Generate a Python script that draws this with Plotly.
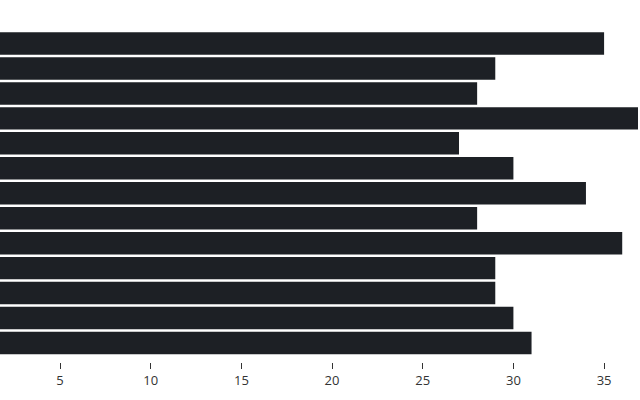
import plotly.graph_objects as go

categories = ["A", "B", "C", "D", "E", "F", "G", "H", "I", "J", "K", "L", "M"]
values = [31, 30, 29, 29, 36, 28, 34, 30, 27, 37, 28, 29, 35]
x_ticks = [5, 10, 15, 20, 25, 30, 35]

fig = go.Figure(
    go.Bar(
        x=values,
        y=categories,
        orientation="h",
        marker=dict(color="#1d2025", line=dict(width=0)),
    )
)

fig.update_layout(
    width=640,
    height=400,
    margin=dict(l=0, r=2, t=31, b=38),
    paper_bgcolor="white",
    plot_bgcolor="white",
    bargap=0.1,
    showlegend=False,
    font=dict(family="Open Sans", size=13, color="#333333"),
    xaxis=dict(
        range=[1.69, 36.87],
        tickvals=x_ticks,
        ticks="outside",
        ticklen=6,
        tickwidth=1,
        tickcolor="#333333",
        showgrid=False,
        zeroline=False,
        showline=False,
    ),
    yaxis=dict(
        range=[-0.76, 12.5],
        showticklabels=False,
        showgrid=False,
        zeroline=False,
        showline=False,
        ticks="",
    ),
)

fig.write_html(
    "out.html",
    config={"displayModeBar": False},
    post_script="document.body.style.margin='0';document.body.style.padding='0';",
)
